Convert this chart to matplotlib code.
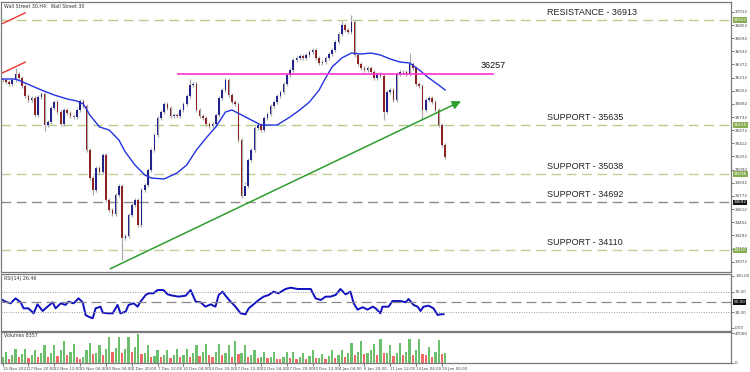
import matplotlib
matplotlib.use("Agg")
import matplotlib.pyplot as plt
import matplotlib.transforms as mtransforms
import numpy as np

# --- data (one candle = 8h) ---
closes = [36183, 36159, 36134, 36183, 36256, 36207, 36110, 35988, 35939, 35964,
          35757, 35976, 36012, 35635, 35672, 35842, 35915, 35793, 35647, 35818,
          35781, 35745, 35733, 35818, 35927, 35866, 35331, 34990, 34844, 35112,
          35063, 35270, 34722, 34601, 34552, 34783, 34893, 34260, 34284, 34540,
          34662, 34722, 34418, 34844, 34905, 35088, 35331, 35513, 35720, 35793,
          35891, 35842, 35745, 35757, 35745, 35818, 35891, 35988, 36122, 36134,
          35818, 35745, 35720, 35647, 35623, 35647, 35757, 35964, 36061, 36183,
          36000, 35915, 35891, 35453, 34771, 34893, 35209, 35331, 35599, 35635,
          35574, 35720, 35769, 35866, 35915, 35988, 36037, 36134, 36244, 36305,
          36426, 36451, 36475, 36451, 36487, 36524, 36548, 36451, 36390, 36402,
          36451, 36499, 36548, 36645, 36743, 36852, 36791, 36767, 36889, 36487,
          36378, 36329, 36305, 36329, 36280, 36207, 36256, 36232, 35793, 36037,
          36061, 35939, 36256, 36280, 36280, 36256, 36378, 36329, 36134, 36110,
          35818, 35939, 35964, 35915, 35818, 35635, 35392, 35246]
wick = 28
high_extremes = {4: 36329, 105: 36900, 108: 36974, 126: 36511, 58: 36190}
low_extremes = {37: 33992, 75: 34942, 118: 35700, 130: 35690, 28: 34780, 13: 35560}

ma_x = [0, 4, 7, 12, 16, 20, 23, 25, 27, 30, 33, 36, 38, 41, 44, 46, 50, 54, 57,
        60, 63, 66, 69, 71, 74, 77, 80, 85, 89, 92, 95, 98, 100, 102, 105, 108,
        111, 114, 117, 120, 123, 126, 129, 132, 135, 137]
ma_vals = [36195, 36195, 36146, 36061, 36000, 35952, 35927, 35891, 35757, 35611,
           35574, 35453, 35306, 35148, 35027, 34990, 34978, 35051, 35148, 35331,
           35477, 35611, 35793, 35818, 35757, 35696, 35635, 35635, 35733, 35818,
           35915, 36061, 36207, 36341, 36451, 36511, 36499, 36511, 36487, 36438,
           36402, 36390, 36305, 36207, 36122, 36061]

rsi_x = [0, 0.9, 2.5, 4.0, 5.6, 6.5, 8.0, 9.6, 10.8, 12.4, 13.9, 15.5, 16.4, 18.0,
         19.5, 20.4, 22.0, 23.5, 24.8, 25.7, 26.6, 27.9, 28.8, 30.3, 31.0, 32.5,
         34.1, 35.6, 36.5, 38.1, 39.0, 40.6, 41.8, 42.7, 44.3, 45.2, 46.7, 48.0,
         49.8, 51.1, 52.6, 54.5, 56.7, 58.2, 59.8, 61.3, 62.8, 64.4, 65.9, 66.9,
         68.1, 69.0, 70.6, 72.1, 73.7, 75.2, 76.2, 77.7, 79.3, 80.8, 82.4, 83.9,
         85.4, 87.6, 89.2, 91.3, 93.2, 95.4, 96.9, 98.5, 100.0, 101.5, 103.1,
         104.6, 106.2, 107.7, 108.7, 109.9, 111.5, 113.0, 114.6, 115.5, 117.0,
         117.6, 119.5, 120.7, 123.2, 124.8, 125.7, 127.2, 128.5, 129.4, 130.3,
         131.9, 133.4, 134.7, 135.6, 136.5]
rsi_vals = [53.8, 50.6, 47.4, 57, 49.4, 37.8, 37.8, 28.2, 45.5, 32.7, 41, 49.4,
            37.8, 47.4, 44.4, 50.6, 47.4, 57, 49.4, 25, 21.8, 18.6, 37.8, 41, 29.5,
            28.2, 28.2, 44.4, 28.2, 31.4, 44.4, 47.4, 41, 50.6, 63.5, 66.7, 66.7,
            73, 73, 64.7, 62.2, 60.3, 62.2, 73, 50.6, 49.4, 41, 45.5, 41, 63.5,
            69.9, 62.2, 50.6, 41, 28.2, 26.3, 37.8, 45.5, 53.8, 60.3, 63.5, 69.9,
            66.7, 75, 77.5, 75, 75, 75, 57, 53.8, 60.3, 60.3, 63.5, 75, 64.7, 69.9,
            47.4, 35.3, 40, 35.3, 41, 37.8, 28.2, 41, 41, 51.9, 51.9, 49.4, 55.8,
            44.4, 41, 32.7, 41, 42.9, 37.8, 25, 26.3, 26.46]

volumes = [9000, 16700, 7000, 12000, 22200, 9000, 14000, 22200, 8000, 13000,
           20000, 9000, 15000, 27500, 10000, 16000, 27500, 11000, 20000, 34000,
           12000, 18000, 30000, 10000, 6000, 9000, 20000, 32000, 14000, 16000,
           27500, 12000, 22000, 41000, 18000, 24000, 41000, 16000, 22000, 41000,
           18000, 25000, 45000, 14000, 15000, 27500, 10000, 11000, 20000, 9000,
           12000, 20000, 8000, 13000, 22000, 9000, 12000, 22000, 10000, 15000,
           27500, 11000, 17000, 30000, 12000, 9000, 17000, 30000, 12000, 15000,
           27500, 10000, 34000, 14000, 16000, 27500, 10000, 12000, 20000, 8000,
           10000, 18000, 8000, 10000, 18000, 7000, 6000, 9000, 17000, 8000,
           18000, 7000, 9000, 16000, 7000, 11000, 20000, 8000, 8000, 14500,
           6000, 11000, 20000, 8000, 12000, 20000, 9000, 16000, 31500, 13000,
           18000, 34000, 14000, 16000, 20000, 30000, 12000, 37000, 15000, 16000,
           29000, 11000, 15000, 31500, 12000, 18000, 37000, 13000, 20000, 38000,
           14000, 12000, 25000, 10000, 18000, 36500, 14000, 16000]

tick_pos = [0, 8, 16, 24, 32, 40, 48, 56, 64, 72, 80, 88, 96, 104, 112, 120, 128, 136]
tick_labels = ["15 Nov 2021", "17 Nov 20:00", "22 Nov 12:00", "25 Nov 04:00",
               "30 Nov 04:00", "2 Dec 20:00", "7 Dec 12:00", "10 Dec 04:00",
               "14 Dec 20:00", "17 Dec 12:00", "22 Dec 04:00", "27 Dec 20:00",
               "30 Dec 12:00", "4 Jan 04:00", "6 Jan 20:00", "11 Jan 12:00",
               "14 Jan 04:00", "19 Jan 00:00"]

levels = [36913, 35635, 35038, 34692, 34110]
level_names = ["RESISTANCE - 36913", "SUPPORT - 35635", "SUPPORT - 35038",
               "SUPPORT - 34692", "SUPPORT - 34110"]
level_colors = ["#b5cc8c", "#b5cc8c", "#c4cc9c", "#8c8c8c", "#c4cc9c"]
pivot = 36257
trend_start = (32.5, 33870)
trend_end = (142.7, 35939)

# --- figure ---
fig = plt.figure(figsize=(7.5, 3.72), dpi=100)
ax = fig.add_axes([0.0013, 0.2688, 0.9733, 0.7258])
ax_rsi = fig.add_axes([0.0013, 0.1102, 0.9733, 0.1532], sharex=ax)
ax_vol = fig.add_axes([0.0013, 0.0242, 0.9733, 0.0833], sharex=ax)

n = len(closes)
x = np.arange(n)
c = np.array(closes, dtype=float)
o = np.concatenate([[c[0]], c[:-1]])
hi = np.maximum(o, c) + wick
lo = np.minimum(o, c) - wick
for k, v in high_extremes.items():
    hi[k] = v
for k, v in low_extremes.items():
    lo[k] = v
up = c >= o

ax.vlines(x, lo, hi, color="#a8a8a8", lw=0.9, zorder=2)
body_h = np.maximum(np.abs(c - o), 6)
ax.bar(x, body_h, bottom=np.minimum(o, c), width=0.5,
       color=np.where(up, "#23238e", "#8e2323"), edgecolor="none", zorder=3)

ax.plot(ma_x, ma_vals, color="#2233e0", lw=1.0, zorder=4)

for lv, col in zip(levels, level_colors):
    ax.axhline(lv, color=col, lw=1.0, dashes=(7, 4), zorder=1)
for lv, name in zip(levels, level_names):
    ax.text(168.7, lv + 40, name, fontsize=6.5, color="#222222", ha="left",
            va="bottom", family="Liberation Sans")

ax.hlines(pivot, 54, 152, color="#ff33cc", lw=1.2, zorder=4)
ax.text(152, pivot + 45, "36257", fontsize=6.5, color="#111111", ha="center",
        va="bottom", family="Liberation Sans")

ax.annotate("", xy=trend_end, xytext=trend_start,
            arrowprops=dict(arrowstyle="-|>,head_length=0.5,head_width=0.25",
                            color="#2e9e2e", lw=1.1), zorder=5)
ax.plot([0, 7], [36870, 37000], color="#ee3333", lw=1.0)
ax.plot([0, 7], [36270, 36400], color="#ee3333", lw=1.0)

ax.set_xlim(-0.5, 225.5)
ax.set_ylim(33846, 37132)
ax.yaxis.tick_right()
ax.set_yticks(np.arange(33972, 37100, 160))
ax.set_yticklabels([str(v) for v in np.arange(33972, 37100, 160)])
ax.text(0.004, 0.995, "Wall Street 30,H4:  Wall Street 30", transform=ax.transAxes,
        fontsize=3.4, va="top", ha="left", color="#333333")

trans = mtransforms.blended_transform_factory(ax.transAxes, ax.transData)
for lv in levels:
    fc = "#111111" if lv == 34692 else "#86ad50"
    ax.text(1.004, lv, str(lv), transform=trans, fontsize=3.0, color="white",
            va="center", ha="left",
            bbox=dict(boxstyle="square,pad=0.15", fc=fc, ec="none"))

# RSI panel
ax_rsi.plot(rsi_x, rsi_vals, color="#1010c0", lw=1.4)
ax_rsi.axhline(70, color="#999999", lw=0.7, ls=(0, (1, 1.5)))
ax_rsi.axhline(30, color="#999999", lw=0.7, ls=(0, (1, 1.5)))
ax_rsi.axhline(50, color="#888888", lw=0.9, dashes=(8, 4))
ax_rsi.set_ylim(-5.8, 103.8)
ax_rsi.yaxis.tick_right()
ax_rsi.set_yticks([0, 30, 70, 100])
ax_rsi.set_yticklabels(["0.00", "30.00", "70.00", "100.00"])
trans_r = mtransforms.blended_transform_factory(ax_rsi.transAxes, ax_rsi.transData)
ax_rsi.text(1.004, 50, "50.00", transform=trans_r, fontsize=3.0, color="white",
            va="center", ha="left",
            bbox=dict(boxstyle="square,pad=0.15", fc="#111111", ec="none"))
ax_rsi.text(0.004, 0.97, "RSI(14) 26.46", transform=ax_rsi.transAxes,
            fontsize=3.4, va="top", ha="left", color="#333333")

# Volume panel
v = np.array(volumes)
prev = np.concatenate([[v[0]], v[:-1]])
vcol = np.where(v >= prev, "#6cbf6c", "#f06868")
ax_vol.bar(x, v, width=0.7, color=vcol, edgecolor="none")
ax_vol.set_ylim(0, 48600)
ax_vol.yaxis.tick_right()
ax_vol.set_yticks([0, 47000])
ax_vol.set_yticklabels(["0", "47000"])
ax_vol.text(0.004, 0.97, "Volumes 8357", transform=ax_vol.transAxes,
            fontsize=3.4, va="top", ha="left", color="#333333")
ax_vol.set_xticks(tick_pos)
ax_vol.set_xticklabels(tick_labels, ha="left")

for a in (ax, ax_rsi, ax_vol):
    for s in a.spines.values():
        s.set_color("#7a7a7a")
        s.set_linewidth(0.9)
    a.tick_params(axis="y", labelsize=3.0, length=2, width=0.5, pad=1,
                  colors="#444444")
    a.tick_params(axis="x", labelsize=2.9, length=2, width=0.5, pad=1,
                  colors="#444444")
    a.set_facecolor("white")
plt.setp(ax.get_xticklabels(), visible=False)
plt.setp(ax_rsi.get_xticklabels(), visible=False)
ax.tick_params(axis="x", length=0)
ax_rsi.tick_params(axis="x", length=0)

fig.savefig("out.png", dpi=100)
